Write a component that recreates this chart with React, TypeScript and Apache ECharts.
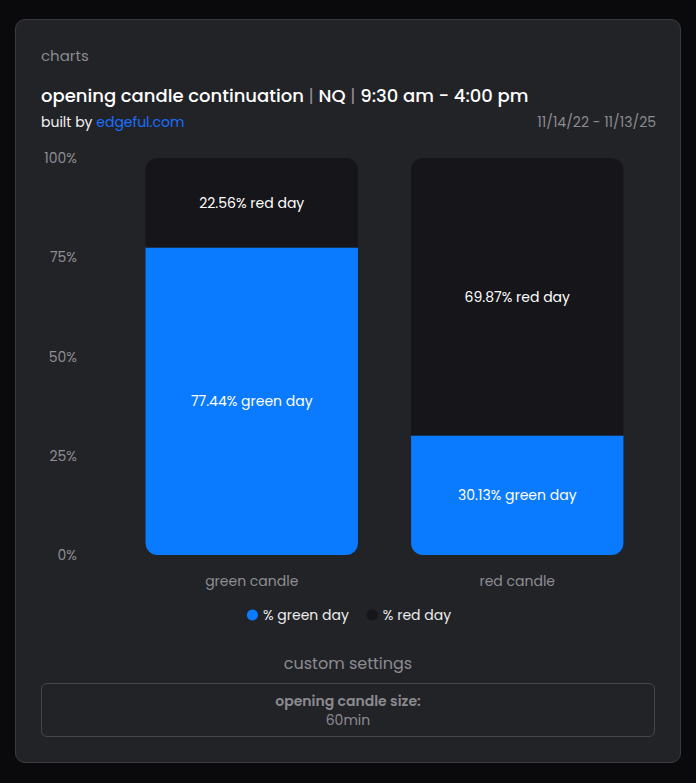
import React, { useEffect, useRef } from 'react'
import * as echarts from 'echarts'

const categories = ['green candle', 'red candle']
const greenDay = [77.44, 30.13]
const redDay = [22.56, 69.87]
const yTicks = [0, 25, 50, 75, 100]

const FONT = 'Poppins, Inter, "Noto Sans", sans-serif'
const BLUE = '#0a7aff'
const DARK = '#16161a'

const Chart: React.FC = () => {
  const ref = useRef<HTMLDivElement>(null)

  useEffect(() => {
    if (!ref.current) return
    const chart = echarts.init(ref.current, undefined, { renderer: 'svg' })

    chart.setOption({
      animation: false,
      textStyle: { fontFamily: FONT },
      grid: { left: 103, right: 32, top: 17, bottom: 86 },
      legend: {
        bottom: 14,
        left: 'center',
        icon: 'circle',
        itemWidth: 11,
        itemHeight: 11,
        itemGap: 18,
        textStyle: { color: '#ececec', fontSize: 14, fontFamily: FONT },
        data: ['% green day', '% red day']
      },
      xAxis: {
        type: 'category',
        data: categories,
        axisLine: { show: false },
        axisTick: { show: false },
        axisLabel: { color: '#8e8e93', fontSize: 14, margin: 19, fontFamily: FONT }
      },
      yAxis: {
        type: 'value',
        min: yTicks[0],
        max: yTicks[yTicks.length - 1],
        interval: 25,
        splitLine: { show: false },
        axisLine: { show: false },
        axisTick: { show: false },
        axisLabel: {
          color: '#8e8e93',
          fontSize: 14,
          margin: 42,
          fontFamily: FONT,
          formatter: (v: number) => `${v}%`
        }
      },
      series: [
        {
          name: '% green day',
          type: 'bar',
          stack: 'total',
          barWidth: '80%',
          data: greenDay,
          itemStyle: { color: BLUE, borderRadius: [0, 0, 12, 12] },
          label: {
            show: true,
            position: 'inside',
            color: '#ffffff',
            fontSize: 14,
            fontFamily: FONT,
            formatter: (p: any) => `${p.value.toFixed(2)}% green day`
          }
        },
        {
          name: '% red day',
          type: 'bar',
          stack: 'total',
          barWidth: '80%',
          data: redDay,
          itemStyle: { color: DARK, borderRadius: [12, 12, 0, 0] },
          label: {
            show: true,
            position: 'inside',
            color: '#ffffff',
            fontSize: 14,
            fontFamily: FONT,
            formatter: (p: any) => `${p.value.toFixed(2)}% red day`
          }
        }
      ]
    })

    return () => chart.dispose()
  }, [])

  return (
    <div
      ref={ref}
      style={{ position: 'absolute', left: 0, top: 121, width: 666, height: 500 }}
    />
  )
}

const App: React.FC = () => {
  useEffect(() => {
    document.body.style.margin = '0'
    document.body.style.background = '#0a0a0c'
  }, [])

  return (
    <div style={{ width: 696, height: 783, background: '#0a0a0c', position: 'relative', fontFamily: FONT }}>
      <div
        style={{
          position: 'absolute',
          left: 15,
          top: 19,
          width: 664,
          height: 742,
          background: '#222327',
          border: '1px solid #3b3c41',
          borderRadius: 10
        }}
      >
        <div style={{ position: 'absolute', left: 25, top: 24, fontSize: 15, color: '#8b8b90' }}>charts</div>
        <div
          style={{
            position: 'absolute',
            left: 25,
            top: 62,
            fontSize: 18,
            fontWeight: 500,
            color: '#ffffff',
            whiteSpace: 'nowrap'
          }}
        >
          opening candle continuation <span style={{ color: '#8b8b90', fontWeight: 400 }}>|</span> NQ{' '}
          <span style={{ color: '#8b8b90', fontWeight: 400 }}>|</span> 9:30 am - 4:00 pm
        </div>
        <div style={{ position: 'absolute', left: 25, top: 92, fontSize: 14, color: '#f0f0f0' }}>
          built by <span style={{ color: '#1a6fff' }}>edgeful.com</span>
        </div>
        <div style={{ position: 'absolute', right: 24, top: 92, fontSize: 14, color: '#8b8b90' }}>
          11/14/22 - 11/13/25
        </div>

        <Chart />

        <div
          style={{
            position: 'absolute',
            left: 0,
            width: 664,
            top: 631,
            textAlign: 'center',
            fontSize: 16,
            color: '#8b8b90'
          }}
        >
          custom settings
        </div>
        <div
          style={{
            position: 'absolute',
            left: 25,
            top: 663,
            width: 612,
            height: 52,
            border: '1px solid #46474c',
            borderRadius: 6,
            textAlign: 'center',
            color: '#8b8b90',
            fontSize: 14
          }}
        >
          <div style={{ fontWeight: 600, marginTop: 8, lineHeight: '18px' }}>opening candle size:</div>
          <div style={{ lineHeight: '18px', marginTop: 1 }}>60min</div>
        </div>
      </div>
    </div>
  )
}

export default App
